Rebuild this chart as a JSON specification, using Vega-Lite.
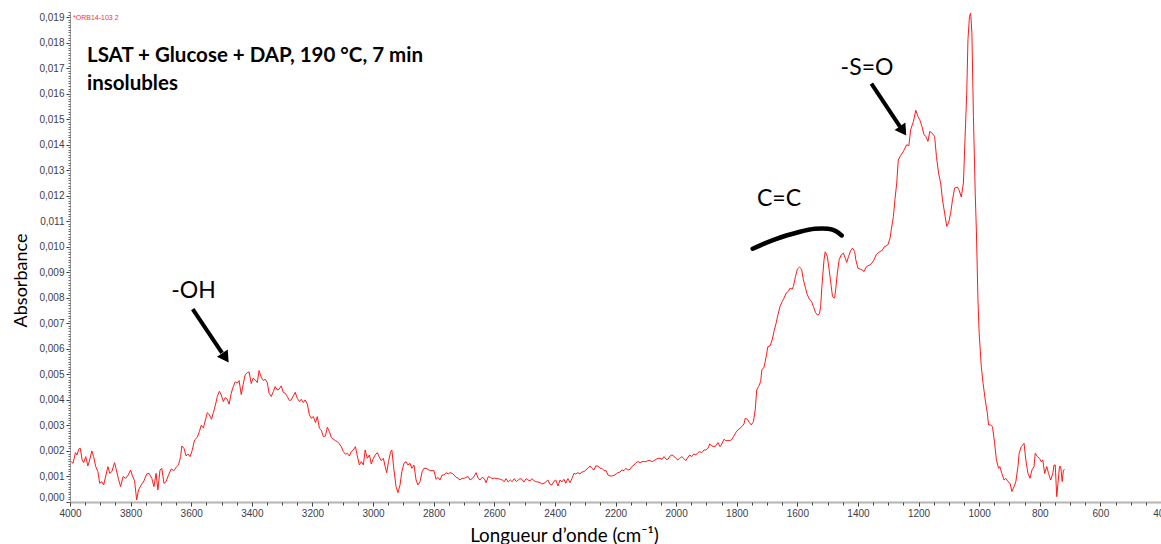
{
"$schema": "https://vega.github.io/schema/vega-lite/v6.json",
"width": 1091, "height": 490,
"autosize": {"type": "none"},
"padding": {"left": 70, "top": 12, "right": 0, "bottom": 42},
"background": "white",
"config": {"view": {"stroke": null}, "font": "Lato"},
"datasets": {
"spectrum": [
{"w":3996,"a":0.001582},{"w":3990,"a":0.001517},{"w":3982,"a":0.001935},{"w":3977,"a":0.001843},{"w":3971,"a":0.002079},{"w":3966,"a":0.002105},{"w":3960,"a":0.001647},{"w":3955,"a":0.001543},{"w":3948,"a":0.001778},{"w":3941,"a":0.001412},{"w":3935,"a":0.001647},{"w":3928,"a":0.002},{"w":3922,"a":0.001778},{"w":3915,"a":0.001386},{"w":3908,"a":0.00119},{"w":3902,"a":0.000732},{"w":3895,"a":0.000798},{"w":3889,"a":0.000667},{"w":3882,"a":0.00102},{"w":3875,"a":0.001386},{"w":3869,"a":0.001124},{"w":3862,"a":0.00119},{"w":3853,"a":0.001543},{"w":3847,"a":0.001255},{"w":3840,"a":0.000889},{"w":3833,"a":0.000601},{"w":3825,"a":0.000994},{"w":3816,"a":0.000928},{"w":3808,"a":0.001059},{"w":3800,"a":0.001255},{"w":3794,"a":0.00102},{"w":3787,"a":0.000837},{"w":3780,"a":0.000079},{"w":3774,"a":0.000471},{"w":3765,"a":0.000667},{"w":3756,"a":0.000824},{"w":3747,"a":0.001098},{"w":3739,"a":0.001124},{"w":3730,"a":0.000928},{"w":3723,"a":0.000601},{"w":3716,"a":0.001124},{"w":3710,"a":0.000471},{"w":3703,"a":0.001255},{"w":3697,"a":0.00132},{"w":3690,"a":0.000732},{"w":3683,"a":0.000798},{"w":3675,"a":0.001059},{"w":3666,"a":0.001294},{"w":3657,"a":0.001229},{"w":3648,"a":0.001386},{"w":3642,"a":0.001451},{"w":3635,"a":0.001778},{"w":3631,"a":0.002196},{"w":3624,"a":0.002105},{"w":3617,"a":0.001804},{"w":3611,"a":0.001883},{"w":3604,"a":0.001778},{"w":3597,"a":0.002013},{"w":3589,"a":0.002431},{"w":3580,"a":0.002536},{"w":3573,"a":0.002759},{"w":3567,"a":0.003007},{"w":3560,"a":0.002902},{"w":3553,"a":0.003216},{"w":3547,"a":0.003503},{"w":3540,"a":0.003412},{"w":3533,"a":0.003242},{"w":3527,"a":0.003503},{"w":3520,"a":0.003804},{"w":3514,"a":0.004131},{"w":3507,"a":0.00434},{"w":3501,"a":0.004196},{"w":3494,"a":0.003935},{"w":3488,"a":0.004092},{"w":3481,"a":0.004026},{"w":3475,"a":0.00383},{"w":3468,"a":0.004262},{"w":3462,"a":0.004497},{"w":3455,"a":0.004706},{"w":3448,"a":0.004654},{"w":3442,"a":0.004758},{"w":3435,"a":0.004209},{"w":3429,"a":0.004588},{"w":3422,"a":0.004981},{"w":3415,"a":0.005072},{"w":3409,"a":0.005098},{"w":3402,"a":0.004641},{"w":3396,"a":0.00485},{"w":3389,"a":0.004785},{"w":3382,"a":0.00468},{"w":3376,"a":0.005151},{"w":3369,"a":0.004889},{"w":3362,"a":0.004758},{"w":3356,"a":0.004811},{"w":3349,"a":0.00468},{"w":3343,"a":0.004262},{"w":3336,"a":0.004131},{"w":3329,"a":0.004327},{"w":3323,"a":0.004523},{"w":3316,"a":0.004392},{"w":3310,"a":0.004418},{"w":3303,"a":0.004549},{"w":3296,"a":0.004288},{"w":3290,"a":0.004262},{"w":3283,"a":0.004131},{"w":3276,"a":0.003974},{"w":3270,"a":0.004},{"w":3263,"a":0.004157},{"w":3257,"a":0.004301},{"w":3250,"a":0.004066},{"w":3243,"a":0.003935},{"w":3237,"a":0.004026},{"w":3230,"a":0.003896},{"w":3224,"a":0.004},{"w":3217,"a":0.003843},{"w":3210,"a":0.003412},{"w":3204,"a":0.003281},{"w":3197,"a":0.003347},{"w":3190,"a":0.003111},{"w":3184,"a":0.003347},{"w":3177,"a":0.002889},{"w":3171,"a":0.002824},{"w":3164,"a":0.002562},{"w":3157,"a":0.002588},{"w":3151,"a":0.002928},{"w":3144,"a":0.002758},{"w":3138,"a":0.002536},{"w":3131,"a":0.002458},{"w":3124,"a":0.002405},{"w":3118,"a":0.002366},{"w":3111,"a":0.002275},{"w":3105,"a":0.00217},{"w":3098,"a":0.001974},{"w":3091,"a":0.00187},{"w":3085,"a":0.001909},{"w":3078,"a":0.001804},{"w":3072,"a":0.001974},{"w":3065,"a":0.00204},{"w":3058,"a":0.00217},{"w":3052,"a":0.001804},{"w":3045,"a":0.001451},
{"w":3039,"a":0.001582},{"w":3032,"a":0.001451},{"w":3026,"a":0.002039},{"w":3019,"a":0.001712},{"w":3012,"a":0.001843},{"w":3006,"a":0.00149},{"w":2999,"a":0.001712},{"w":2993,"a":0.001843},{"w":2986,"a":0.001935},{"w":2980,"a":0.001778},{"w":2973,"a":0.001621},{"w":2966,"a":0.001712},{"w":2960,"a":0.001386},{"w":2955,"a":0.00115},{"w":2949,"a":0.001582},{"w":2942,"a":0.001974},{"w":2938,"a":0.002039},{"w":2931,"a":0.001255},{"w":2924,"a":0.000601},{"w":2918,"a":0.000366},{"w":2911,"a":0.000667},{"w":2905,"a":0.00119},{"w":2898,"a":0.001516},{"w":2891,"a":0.001582},{"w":2885,"a":0.001451},{"w":2878,"a":0.001516},{"w":2872,"a":0.00132},{"w":2865,"a":0.001451},{"w":2858,"a":0.000863},{"w":2852,"a":0.000667},{"w":2845,"a":0.000797},{"w":2838,"a":0.00119},{"w":2832,"a":0.00132},{"w":2825,"a":0.00132},{"w":2819,"a":0.001281},{"w":2812,"a":0.001229},{"w":2805,"a":0.001229},{"w":2799,"a":0.001229},{"w":2792,"a":0.000889},{"w":2786,"a":0.000967},{"w":2779,"a":0.000863},{"w":2772,"a":0.001059},{"w":2766,"a":0.001059},{"w":2759,"a":0.00115},{"w":2752,"a":0.001098},{"w":2746,"a":0.00115},{"w":2739,"a":0.001124},{"w":2733,"a":0.001059},{"w":2726,"a":0.000967},{"w":2719,"a":0.000928},{"w":2713,"a":0.000863},{"w":2706,"a":0.000928},{"w":2699,"a":0.000928},{"w":2693,"a":0.000967},{"w":2686,"a":0.000993},{"w":2680,"a":0.000863},{"w":2673,"a":0.000915},{"w":2666,"a":0.00102},{"w":2660,"a":0.00115},{"w":2653,"a":0.000928},{"w":2647,"a":0.000863},{"w":2640,"a":0.000967},{"w":2633,"a":0.000915},{"w":2627,"a":0.000758},{"w":2620,"a":0.000993},{"w":2613,"a":0.000967},{"w":2607,"a":0.000915},{"w":2600,"a":0.000941},{"w":2594,"a":0.000915},{"w":2587,"a":0.000915},{"w":2580,"a":0.000889},{"w":2574,"a":0.000863},{"w":2567,"a":0.000797},{"w":2561,"a":0.000915},{"w":2554,"a":0.000784},{"w":2547,"a":0.000863},{"w":2541,"a":0.000797},{"w":2534,"a":0.000915},{"w":2527,"a":0.000797},{"w":2521,"a":0.000863},{"w":2515,"a":0.000915},{"w":2509,"a":0.000889},{"w":2502,"a":0.000784},{"w":2495,"a":0.000915},{"w":2489,"a":0.000863},{"w":2482,"a":0.000824},{"w":2476,"a":0.000915},{"w":2469,"a":0.000837},{"w":2463,"a":0.000797},{"w":2456,"a":0.000784},{"w":2449,"a":0.000758},{"w":2443,"a":0.000706},{"w":2436,"a":0.000732},{"w":2430,"a":0.000784},{"w":2423,"a":0.000863},{"w":2417,"a":0.000706},{"w":2410,"a":0.000667},{"w":2403,"a":0.00081},{"w":2397,"a":0.000863},{"w":2390,"a":0.000627},{"w":2383,"a":0.000863},{"w":2377,"a":0.000784},{"w":2370,"a":0.000889},{"w":2364,"a":0.000732},{"w":2357,"a":0.000915},{"w":2350,"a":0.000758},{"w":2344,"a":0.000915},{"w":2337,"a":0.001124},{"w":2331,"a":0.001098},{"w":2324,"a":0.00115},{"w":2317,"a":0.001098},{"w":2311,"a":0.001176},{"w":2304,"a":0.00119},{"w":2298,"a":0.001255},{"w":2291,"a":0.00132},{"w":2284,"a":0.001412},{"w":2278,"a":0.00132},{"w":2271,"a":0.001255},{"w":2265,"a":0.001412},{"w":2258,"a":0.001412},{"w":2251,"a":0.00132},{"w":2245,"a":0.00132},{"w":2238,"a":0.001229},{"w":2231,"a":0.001229},{"w":2225,"a":0.001059},{"w":2218,"a":0.00102},{"w":2212,"a":0.00102},{"w":2205,"a":0.001046},{"w":2198,"a":0.001098},{"w":2192,"a":0.00115},{"w":2185,"a":0.001176},{"w":2179,"a":0.001255},{"w":2172,"a":0.001229},{"w":2166,"a":0.00132},{"w":2159,"a":0.001255},{"w":2152,"a":0.001281},{"w":2146,"a":0.001386},{"w":2139,"a":0.001451},{"w":2132,"a":0.001542},{"w":2126,"a":0.001582},{"w":2119,"a":0.001542},{"w":2112,"a":0.001582},{"w":2106,"a":0.001582},{"w":2099,"a":0.001582},{"w":2093,"a":0.001621},{"w":2086,"a":0.001621},{"w":2079,"a":0.001582},{"w":2073,"a":0.001621},{"w":2066,"a":0.001673},{"w":2060,"a":0.001712},{"w":2053,"a":0.001712},{"w":2046,"a":0.001673},{"w":2040,"a":0.001778},{"w":2033,"a":0.001673},{"w":2027,"a":0.001673},{"w":2020,"a":0.001804},{"w":2014,"a":0.001843},{"w":2008,"a":0.001804},{"w":2001,"a":0.001712},{"w":1994,"a":0.001647},{"w":1988,"a":0.001712},{"w":1981,"a":0.001778},{"w":1975,"a":0.001712},{"w":1968,"a":0.001621},{"w":1961,"a":0.001752},{"w":1955,"a":0.001843},{"w":1948,"a":0.001778},{"w":1942,"a":0.001882},{"w":1935,"a":0.001843},{"w":1928,"a":0.001935},{"w":1922,"a":0.001974},{"w":1915,"a":0.001935},{"w":1908,"a":0.002039},{"w":1902,"a":0.002039},{"w":1895,"a":0.002105},{"w":1889,"a":0.002275},{"w":1882,"a":0.002196},{"w":1875,"a":0.00217},{"w":1869,"a":0.002196},{"w":1862,"a":0.002327},{"w":1855,"a":0.00217},{"w":1849,"a":0.002275},{"w":1842,"a":0.002458},{"w":1836,"a":0.002405},{"w":1829,"a":0.002405},{"w":1822,"a":0.002405},{"w":1816,"a":0.002458},{"w":1809,"a":0.002588},{"w":1803,"a":0.002719},{"w":1796,"a":0.002824},{"w":1789,"a":0.002889},{"w":1783,"a":0.002954},{"w":1776,"a":0.003059},
{"w":1772,"a":0.003281},{"w":1765,"a":0.003242},{"w":1758,"a":0.003111},{"w":1752,"a":0.00302},{"w":1745,"a":0.00315},{"w":1739,"a":0.003608},{"w":1734,"a":0.004392},{"w":1728,"a":0.004523},{"w":1721,"a":0.004719},{"w":1717,"a":0.005177},{"w":1710,"a":0.005281},{"w":1706,"a":0.005503},{"w":1701,"a":0.00583},{"w":1697,"a":0.006092},{"w":1690,"a":0.006118},{"w":1683,"a":0.006353},{"w":1677,"a":0.00668},{"w":1670,"a":0.007007},{"w":1664,"a":0.007333},{"w":1657,"a":0.00766},{"w":1650,"a":0.007856},{"w":1644,"a":0.007987},{"w":1637,"a":0.008183},{"w":1630,"a":0.008248},{"w":1624,"a":0.008379},{"w":1617,"a":0.00834},{"w":1613,"a":0.008445},{"w":1606,"a":0.008837},{"w":1600,"a":0.009124},{"w":1593,"a":0.009203},{"w":1586,"a":0.009124},{"w":1580,"a":0.008706},{"w":1573,"a":0.008379},{"w":1567,"a":0.008118},{"w":1560,"a":0.007948},{"w":1553,"a":0.007856},{"w":1547,"a":0.00766},{"w":1540,"a":0.007425},{"w":1533,"a":0.00732},{"w":1527,"a":0.007373},{"w":1523,"a":0.00766},{"w":1519,"a":0.008445},{"w":1512,"a":0.00949},{"w":1508,"a":0.009804},{"w":1501,"a":0.009621},{"w":1495,"a":0.009098},{"w":1488,"a":0.008445},{"w":1484,"a":0.008052},{"w":1477,"a":0.007987},{"w":1473,"a":0.008379},{"w":1468,"a":0.008967},{"w":1462,"a":0.00949},{"w":1455,"a":0.009686},{"w":1448,"a":0.009752},{"w":1442,"a":0.009556},{"w":1437,"a":0.009386},{"w":1431,"a":0.009621},{"w":1424,"a":0.009856},{"w":1418,"a":0.009948},{"w":1411,"a":0.009817},{"w":1407,"a":0.00949},{"w":1400,"a":0.009164},{"w":1393,"a":0.009124},{"w":1387,"a":0.009098},{"w":1380,"a":0.009033},{"w":1373,"a":0.009203},{"w":1367,"a":0.009255},{"w":1360,"a":0.009294},{"w":1354,"a":0.00936},{"w":1347,"a":0.00949},{"w":1340,"a":0.009686},{"w":1334,"a":0.009752},{"w":1327,"a":0.009817},{"w":1320,"a":0.009856},{"w":1314,"a":0.009987},{"w":1307,"a":0.010039},{"w":1301,"a":0.010078},{"w":1294,"a":0.01034},{"w":1290,"a":0.010667},{"w":1283,"a":0.01119},{"w":1278,"a":0.01184},{"w":1272,"a":0.0125},{"w":1267,"a":0.0134},
{"w":1261,"a":0.01354},{"w":1250,"a":0.01374},{"w":1239,"a":0.014},{"w":1232,"a":0.01396},{"w":1226,"a":0.01459},{"w":1217,"a":0.01491},{"w":1209,"a":0.01535},{"w":1202,"a":0.01511},{"w":1196,"a":0.01498},{"w":1189,"a":0.01472},{"w":1182,"a":0.01439},{"w":1176,"a":0.01433},{"w":1169,"a":0.01413},{"w":1163,"a":0.01452},{"w":1156,"a":0.01446},{"w":1147,"a":0.01433},{"w":1141,"a":0.01354},{"w":1134,"a":0.01289},{"w":1127,"a":0.0125},{"w":1121,"a":0.01184},{"w":1114,"a":0.01132},{"w":1107,"a":0.0108},{"w":1101,"a":0.01093},{"w":1094,"a":0.01132},{"w":1088,"a":0.01184},{"w":1081,"a":0.0123},{"w":1072,"a":0.01234},{"w":1066,"a":0.01221},{"w":1059,"a":0.01195},{"w":1052,"a":0.0125},{"w":1046,"a":0.01446},{"w":1041,"a":0.01603},{"w":1037,"a":0.01812},{"w":1032,"a":0.01903},{"w":1028,"a":0.01916},{"w":1024,"a":0.01838},{"w":1019,"a":0.01511},{"w":1013,"a":0.0121},{"w":1009,"a":0.01054},{"w":1004,"a":0.00792},{"w":1000,"a":0.00661},{"w":993,"a":0.00531},{"w":987,"a":0.00465},{"w":980,"a":0.004},{"w":973,"a":0.00348},{"w":969,"a":0.00302},{"w":962,"a":0.00302},{"w":956,"a":0.00295},{"w":949,"a":0.0023},{"w":943,"a":0.00165},{"w":936,"a":0.00132},{"w":932,"a":0.00139},{"w":925,"a":0.00112},{"w":918,"a":0.00086},{"w":912,"a":0.00093},{"w":905,"a":0.0008},{"w":898,"a":0.00073},{"w":892,"a":0.00041},{"w":885,"a":0.0006},{"w":879,"a":0.0008},{"w":872,"a":0.00139},{"w":868,"a":0.00191},{"w":861,"a":0.00217},{"w":852,"a":0.0023},{"w":846,"a":0.00165},{"w":839,"a":0.00112},{"w":832,"a":0.00093},{"w":826,"a":0.00125},{"w":819,"a":0.00139},{"w":815,"a":0.00191},{"w":808,"a":0.00178},{"w":801,"a":0.00171},{"w":795,"a":0.00158},{"w":790,"a":0.00165},{"w":784,"a":0.00112},{"w":777,"a":0.00139},{"w":771,"a":0.00112},{"w":764,"a":0.00086},{"w":757,"a":0.00112},{"w":753,"a":0.00145},{"w":749,"a":0.00145},{"w":744,"a":0.00021},{"w":740,"a":0.00073},{"w":735,"a":0.00139},{"w":731,"a":0.00139},{"w":726,"a":0.0008},{"w":722,"a":0.00125},{"w":718,"a":0.00127}
],
"arrows": [
{"id":"oh","w":3595.1,"a":0.007557},{"id":"oh","w":3498.4,"a":0.005843},
{"id":"so","w":1355.6,"a":0.01639},{"id":"so","w":1261.3,"a":0.01471}
],
"heads": [{"w":3486.9,"a":0.005647},{"w":1251.0,"a":0.01454}],
"arc": [
{"w":1747.3,"a":0.009922},{"w":1673.7,"a":0.010294},{"w":1591.2,"a":0.010588},{"w":1541.7,"a":0.010706},{"w":1498.6,"a":0.010706},{"w":1472.0,"a":0.010608},{"w":1453.6,"a":0.010443}
],
"groups": [
{"t":"-OH","w":3592.5,"a":0.00799},{"t":"C=C","w":1660.5,"a":0.011608},{"t":"-S=O","w":1370.1,"a":0.016745}
],
"heading": [
{"t":"LSAT + Glucose + DAP, 190 °C, 7 min","w":3943.9,"a":0.017227},{"t":"insolubles","w":3943.9,"a":0.016129}
],
"tag": [{"t":"*ORB14-103 2","w":3990,"a":0.01898}]
},
"layer": [
{
"data": {"name": "spectrum"},
"mark": {"type": "line", "color": "#ff1a1a", "strokeWidth": 1, "clip": true},
"encoding": {
"x": {"field": "w", "type": "quantitative", "scale": {"domain": [4000, 400], "nice": false, "zero": false},
"axis": {"orient": "bottom", "values": [4000,3800,3600,3400,3200,3000,2800,2600,2400,2200,2000,1800,1600,1400,1200,1000,800,600,400], "format": "d", "grid": false,
"labelFont": "Liberation Sans", "labelFontSize": 10, "labelColor": "#3c3c4c", "labelPadding": 2, "labelOverlap": false, "labelFlush": false,
"tickColor": "#333333", "tickSize": 4, "tickWidth": 1, "domainColor": "#b4b4b4", "domainWidth": 2,
"title": "Longueur d’onde (cm⁻¹)", "titleFont": "Lato", "titleFontSize": 18.8, "titleFontWeight": "normal", "titleColor": "#000000",
"titleX": 494, "titleY": 39, "titleBaseline": "alphabetic", "titleAlign": "center"}},
"y": {"field": "a", "type": "quantitative", "scale": {"domain": [0, 0.0192], "nice": false, "zero": false},
"axis": {"orient": "left", "tickCount": 19, "grid": false, "labelExpr": "replace(format(datum.value, '.3f'), '.', ',')",
"labelFont": "Liberation Sans", "labelFontSize": 10, "labelColor": "#3c3c4c", "labelPadding": 2, "labelFlush": true, "labelOverlap": false,
"tickColor": "#333333", "tickSize": 4, "tickWidth": 1, "domainColor": "#9a9a9a", "domainWidth": 1,
"title": "Absorbance", "titleFont": "Lato", "titleFontSize": 18, "titleFontWeight": "normal", "titleColor": "#000000",
"titleX": -44, "titleY": 268, "titleAngle": 270, "titleBaseline": "alphabetic", "titleAlign": "center"}}
}
},
{
"data": {"name": "spectrum"},
"mark": {"type": "point", "opacity": 0},
"encoding": {
"x": {"field": "w", "type": "quantitative", "axis": {"orient": "bottom", "tickCount": 72, "labels": false, "domain": false, "grid": false, "title": null, "tickSize": 3, "tickColor": "#444444"}},
"y": {"field": "a", "type": "quantitative", "axis": {"orient": "left", "tickCount": 192, "labels": false, "domain": false, "grid": false, "title": null, "tickSize": 2, "tickColor": "#666666"}}
}
},
{
"data": {"name": "arrows"},
"mark": {"type": "line", "color": "#000000", "strokeWidth": 4, "strokeCap": "butt"},
"encoding": {
"x": {"field": "w", "type": "quantitative", "axis": null},
"y": {"field": "a", "type": "quantitative", "axis": null},
"detail": {"field": "id"}
}
},
{
"data": {"name": "heads"},
"mark": {"type": "point", "shape": "triangle-up", "filled": true, "color": "#000000", "opacity": 1, "size": 170, "angle": 146},
"encoding": {
"x": {"field": "w", "type": "quantitative", "axis": null},
"y": {"field": "a", "type": "quantitative", "axis": null}
}
},
{
"data": {"name": "arc"},
"mark": {"type": "line", "color": "#000000", "strokeWidth": 4.5, "strokeCap": "round", "interpolate": "natural"},
"encoding": {
"x": {"field": "w", "type": "quantitative", "axis": null},
"y": {"field": "a", "type": "quantitative", "axis": null}
}
},
{
"data": {"name": "groups"},
"mark": {"type": "text", "font": "Lato", "fontSize": 23, "color": "#000000", "align": "center", "baseline": "alphabetic"},
"encoding": {
"x": {"field": "w", "type": "quantitative", "axis": null},
"y": {"field": "a", "type": "quantitative", "axis": null},
"text": {"field": "t"}
}
},
{
"data": {"name": "heading"},
"mark": {"type": "text", "font": "Lato", "fontSize": 20.5, "fontWeight": "bold", "color": "#000000", "align": "left", "baseline": "alphabetic"},
"encoding": {
"x": {"field": "w", "type": "quantitative", "axis": null},
"y": {"field": "a", "type": "quantitative", "axis": null},
"text": {"field": "t"}
}
},
{
"data": {"name": "tag"},
"mark": {"type": "text", "font": "Liberation Sans", "fontSize": 7, "color": "#ff3030", "align": "left", "baseline": "middle"},
"encoding": {
"x": {"field": "w", "type": "quantitative", "axis": null},
"y": {"field": "a", "type": "quantitative", "axis": null},
"text": {"field": "t"}
}
}
],
"resolve": {"axis": {"x": "independent", "y": "independent"}}
}
